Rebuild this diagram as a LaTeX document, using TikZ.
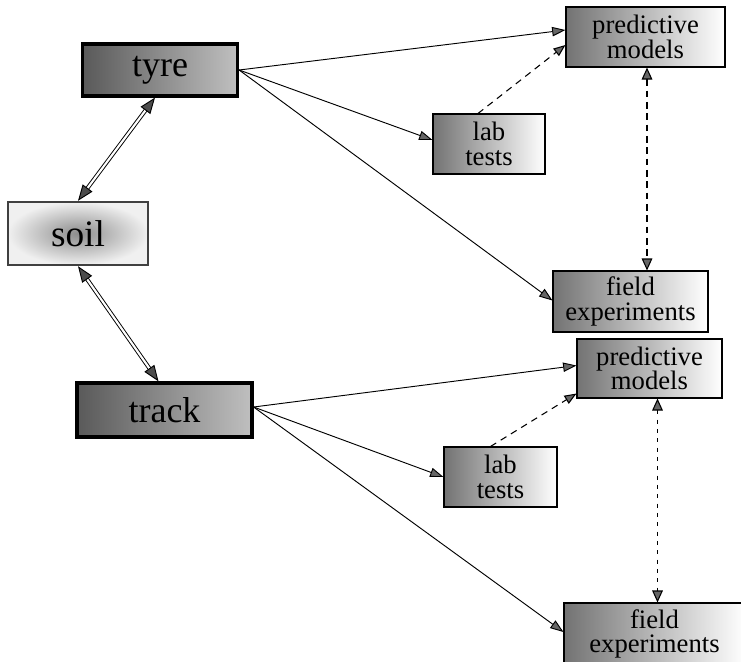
\documentclass[tikz,border=0pt]{standalone}
\usepackage{fontspec}
\setmainfont{Liberation Serif}
\usetikzlibrary{arrows.meta,calc}
\newdimen\pxu \pxu=0.75pt

\begin{document}
\begin{tikzpicture}[x=0.75pt,y=-0.75pt,
  every node/.style={align=center, inner sep=0pt, font=\fontsize{20}{18.5}\selectfont},
  mainbox/.style={draw, line width=2.4pt, left color=black!65, right color=black!25,
    font=\fontsize{27}{28}\selectfont},
  soilbox/.style={draw=black!75, line width=1.8pt, inner color=black!45, outer color=black!6,
    font=\fontsize{28}{30}\selectfont},
  smallbox/.style={draw, line width=0.8pt, left color=black!55, right color=white},
  feed/.style={line width=0.7pt, -{Triangle[length=10pt,width=7pt,fill=black!60]}},
  link/.style={double, double distance=1.6pt, line width=0.7pt,
    {Triangle[length=12pt,width=9pt,fill=black!70]}-{Triangle[length=12pt,width=9pt,fill=black!70]}},
  probe/.style={line width=0.8pt, dash pattern=on 5pt off 4pt, -{Triangle[length=9pt,width=7pt,fill=black!60]}},
  verify/.style={line width=0.8pt, {Triangle[length=9pt,width=8pt,fill=black!60]}-{Triangle[length=9pt,width=8pt,fill=black!60]}}]
  % canvas 741 x 661 px, y runs downwards
  \useasboundingbox (0,0) rectangle (741,661);

  % ── E1 left column ──
  \node[mainbox, minimum width=155\pxu, minimum height=52\pxu] (tyre) at (160,70) {tyre};
  \node[soilbox, minimum width=140\pxu, minimum height=63\pxu] (soil) at (78,233.5) {soil};
  \node[mainbox, minimum width=175\pxu, minimum height=54\pxu] (track) at (164.5,410) {track};

  % ── E2 tyre branch ──
  \node[smallbox, minimum width=159\pxu, minimum height=60\pxu] (pm1) at (645.5,37) {predictive\\models};
  \node[smallbox, minimum width=112\pxu, minimum height=60\pxu] (lab1) at (489,144) {lab\\tests};
  \node[smallbox, minimum width=155\pxu, minimum height=61\pxu] (fe1) at (630.5,301.5) {field\\experiments};

  % ── E3 track branch ──
  \node[smallbox, minimum width=145\pxu, minimum height=59\pxu] (pm2) at (649.5,368.5) {predictive\\models};
  \node[smallbox, minimum width=113\pxu, minimum height=60\pxu] (lab2) at (500.5,477) {lab\\tests};
  \node[smallbox, minimum width=181\pxu, minimum height=62\pxu] (fe2) at (654.5,634) {field\\experiments};

  % ── E4 soil interaction (double lines) ──
  \draw[link] (soil.north) -- ([xshift=-5\pxu]tyre.south);
  \draw[link] (soil.south) -- ([xshift=-6\pxu]track.north);

  % ── E5 feeds ──
  \draw[feed] (tyre.east) -- ([yshift=7\pxu]pm1.west);
  \draw[feed] (tyre.east) -- ([yshift=4\pxu]lab1.west);
  \draw[feed] (tyre.east) -- ([yshift=1\pxu]fe1.west);
  \draw[feed] ([yshift=3\pxu]track.east) -- ([yshift=3\pxu]pm2.west);
  \draw[feed] ([yshift=3\pxu]track.east) -- (lab2.west);
  \draw[feed] ([yshift=3\pxu]track.east) -- ([yshift=2\pxu]fe2.west);

  % ── E6 lab tests -> models (dashed) ──
  \draw[probe] ([xshift=-11\pxu]lab1.north) -- ([yshift=-8\pxu]pm1.west);
  \draw[probe] ([xshift=-10\pxu]lab2.north) -- ([yshift=5\pxu]pm2.south west);

  % ── E7 models <-> field experiments ──
  \coordinate (v1) at ([xshift=1.5\pxu]pm1.south);
  \draw[verify, dash pattern=on 5pt off 3.5pt] (v1) -- (v1 |- fe1.north);
  \coordinate (v2) at ([xshift=8\pxu]pm2.south);
  \draw[verify, dash pattern=on 3pt off 4pt] (v2) -- (v2 |- fe2.north);
\end{tikzpicture}
\end{document}
